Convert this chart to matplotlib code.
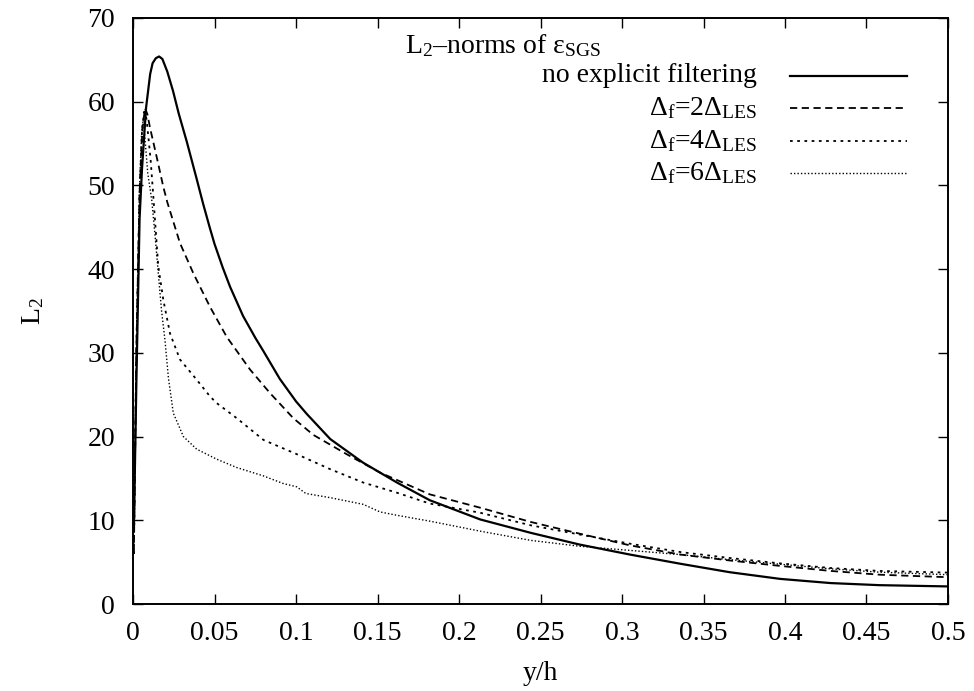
import matplotlib
matplotlib.use("Agg")
import matplotlib.pyplot as plt
from matplotlib.lines import Line2D

plt.rcParams['font.family'] = ['Liberation Serif', 'DejaVu Serif']
plt.rcParams['mathtext.fontset'] = 'custom'
plt.rcParams['mathtext.rm'] = 'Liberation Serif'
plt.rcParams['mathtext.it'] = 'Liberation Serif:italic'
plt.rcParams['mathtext.bf'] = 'Liberation Serif:bold'

# wall-normal profiles of the L2-norm of the SGS dissipation error
yh_nofilt = [0.0005, 0.002, 0.004, 0.0055, 0.008, 0.0105, 0.012, 0.014, 0.016, 0.018,
             0.021, 0.0245, 0.028, 0.033, 0.039, 0.043, 0.047, 0.050, 0.055, 0.0595,
             0.0675, 0.075, 0.080, 0.090, 0.100, 0.1066, 0.121, 0.141, 0.162, 0.182,
             0.213, 0.244, 0.274, 0.305, 0.336, 0.366, 0.397, 0.428, 0.458, 0.5]
L2_nofilt = [9, 26, 46, 52, 59.3, 63.3, 64.6, 65.2, 65.4, 65.1,
             63.6, 61.3, 58.6, 55.2, 50.8, 47.8, 45.0, 43.0, 40.2, 37.9,
             34.4, 31.8, 30.2, 26.9, 24.2, 22.7, 19.7, 16.9, 14.5, 12.4,
             10.1, 8.5, 7.1, 5.9, 4.8, 3.8, 3.0, 2.5, 2.25, 2.1]

yh_f2 = [0.0005, 0.002, 0.004, 0.0058, 0.0074, 0.0088, 0.0104, 0.0145, 0.0186, 0.021,
         0.0288, 0.037, 0.0472, 0.0575, 0.0718, 0.084, 0.0983, 0.1106, 0.131, 0.1515,
         0.182, 0.213, 0.244, 0.274, 0.305, 0.336, 0.366, 0.397, 0.428, 0.458, 0.5]
L2_f2 = [6, 30, 49, 57, 59.2, 58.5, 56.9, 53.4, 49.8, 48.0,
         43.1, 39.5, 35.5, 31.9, 28.0, 25.2, 22.2, 20.2, 17.9, 15.7,
         13.1, 11.5, 9.8, 8.4, 7.0, 5.9, 5.2, 4.55, 3.95, 3.5, 3.2]

yh_f4 = [0.0005, 0.002, 0.004, 0.0055, 0.0068, 0.0082, 0.0094, 0.0108, 0.0125, 0.0155,
         0.0186, 0.0227, 0.0288, 0.039, 0.0472, 0.0513, 0.0636, 0.080, 0.1004, 0.121,
         0.1413, 0.1618, 0.182, 0.213, 0.244, 0.274, 0.305, 0.336, 0.366, 0.397,
         0.428, 0.458, 0.5]
L2_f4 = [6, 30, 49, 56.5, 58.8, 58.0, 55.8, 53.0, 48.5, 40.3,
         36.3, 32.3, 29.2, 26.8, 24.8, 24.0, 22.2, 19.6, 17.9, 16.1,
         14.5, 13.3, 12.0, 10.9, 9.4, 8.3, 7.2, 6.2, 5.5, 4.85,
         4.3, 3.95, 3.75]

yh_f6 = [0.0005, 0.002, 0.004, 0.0052, 0.0062, 0.0074, 0.009, 0.0115, 0.0135, 0.0155,
         0.0175, 0.0196, 0.0217, 0.0247, 0.0309, 0.039, 0.0513, 0.0636, 0.080, 0.092,
         0.1004, 0.106, 0.121, 0.1413, 0.1515, 0.1618, 0.182, 0.213, 0.244, 0.274,
         0.305, 0.336, 0.366, 0.397, 0.428, 0.458, 0.5]
L2_f6 = [6, 30, 50, 56, 57.8, 55.4, 51.5, 48.2, 44.0, 39.5,
         35.0, 31.5, 27.0, 22.8, 20.0, 18.5, 17.3, 16.3, 15.3, 14.4,
         14.0, 13.2, 12.7, 11.9, 11.0, 10.6, 9.9, 8.7, 7.6, 6.9,
         6.4, 5.9, 5.3, 4.75, 4.2, 3.8, 3.5]

series_labels = ['no explicit filtering',
                 'Δ$_{\\mathrm{f}}$=2Δ$_{\\mathrm{LES}}$',
                 'Δ$_{\\mathrm{f}}$=4Δ$_{\\mathrm{LES}}$',
                 'Δ$_{\\mathrm{f}}$=6Δ$_{\\mathrm{LES}}$']
legend_title = 'L$_2$–norms of ε$_{\\mathrm{SGS}}$'
x_ticks = [0, 0.05, 0.1, 0.15, 0.2, 0.25, 0.3, 0.35, 0.4, 0.45, 0.5]
x_ticklabels = ['0', '0.05', '0.1', '0.15', '0.2', '0.25', '0.3', '0.35', '0.4', '0.45', '0.5']
y_ticks = [0, 10, 20, 30, 40, 50, 60, 70]

styles = [
    dict(color='black', lw=1.6, linestyle='-'),
    dict(color='black', lw=1.3, linestyle=(0, (4, 2.5))),
    dict(color='black', lw=1.3, linestyle=(0, (1.5, 2.5))),
    dict(color='black', lw=1.0, linestyle=(0, (1, 1.5))),
]

FS = 20

fig = plt.figure(figsize=(9.74, 6.91), dpi=100)
ax = fig.add_axes([0.1366, 0.1259, 0.8367, 0.8481])

data = [(yh_nofilt, L2_nofilt), (yh_f2, L2_f2), (yh_f4, L2_f4), (yh_f6, L2_f6)]
for (xs, ys), st in zip(data, styles):
    ax.plot(xs, ys, **st)

ax.set_xlim(0, 0.5)
ax.set_ylim(0, 70)
ax.set_xticks(x_ticks)
ax.set_xticklabels(x_ticklabels)
ax.set_yticks(y_ticks)
ax.tick_params(direction='in', length=7, width=1.0, top=True, right=True,
               labelsize=FS)
ax.tick_params(axis='x', pad=12)
ax.tick_params(axis='y', pad=13)
for sp in ax.spines.values():
    sp.set_linewidth(1.4)

ax.set_xlabel('y/h', fontsize=FS, labelpad=11)
ax.set_ylabel('L$_2$', fontsize=FS, labelpad=30)

# gnuplot-style key: right-aligned labels with sample lines to their right
ax.text(0.334, 0.952, legend_title, transform=ax.transAxes, fontsize=FS,
        ha='left', va='center')
row_y = [0.901, 0.846, 0.790, 0.735]
for lab, st, yy in zip(series_labels, styles, row_y):
    ax.text(0.766, yy, lab, transform=ax.transAxes, fontsize=FS,
            ha='right', va='center')
    ax.add_line(Line2D([0.806, 0.950], [yy, yy], transform=ax.transAxes, **st))

fig.savefig('out.png', dpi=100)
